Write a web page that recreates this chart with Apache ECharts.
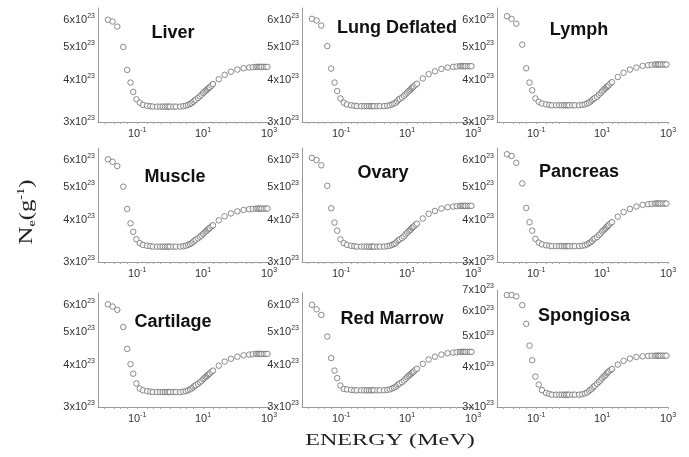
<!DOCTYPE html>
<html>
<head>
<meta charset="utf-8">
<title>Ne vs energy</title>
<script src="https://cdn.jsdelivr.net/npm/echarts@6/dist/echarts.min.js"></script>
<style>
  html, body { margin: 0; padding: 0; background: #fff; }
  #chart { width: 689px; height: 457px; }
</style>
</head>
<body>
<div id="chart"></div>
<script>
// photon energy grid (MeV), same for all nine tissues
var energy = [0.013, 0.018, 0.025, 0.038, 0.05, 0.063, 0.076, 0.095, 0.12,
  0.15, 0.2, 0.25,
  0.3, 0.4, 0.5, 0.6, 0.7, 0.8, 0.9, 1, 1.25, 1.5, 2,
  2.5,
  3, 3.5, 4, 4.5, 5, 5.5, 6, 7, 8, 9, 10, 11, 12, 13, 14, 15, 16, 18, 20,
  30, 45, 70, 110, 170, 250,
  320, 400, 450, 500, 550, 600, 700, 800, 900];

// electron density Ne, in units of 10^23 electrons per gram
var liver = [6.00, 5.93, 5.73, 4.99, 4.27, 3.92, 3.68, 3.50, 3.42,
  3.37, 3.35, 3.34,
  3.33, 3.33, 3.33, 3.33, 3.33, 3.33, 3.33, 3.33, 3.33, 3.33, 3.33,
  3.34,
  3.35, 3.37, 3.39, 3.41, 3.44, 3.47, 3.49, 3.53, 3.57, 3.61, 3.65, 3.68, 3.71, 3.73, 3.76, 3.78, 3.80, 3.84, 3.88,
  4.01, 4.13, 4.22, 4.28, 4.32, 4.34,
  4.35, 4.36, 4.36, 4.36, 4.36, 4.36, 4.36, 4.36, 4.36];
var lungDeflated = [6.04, 5.97, 5.77, 5.02, 4.31, 3.92, 3.70, 3.52, 3.42,
  3.38, 3.36, 3.35,
  3.34, 3.34, 3.34, 3.34, 3.34, 3.34, 3.34, 3.34, 3.34, 3.34, 3.34,
  3.35,
  3.36, 3.38, 3.40, 3.42, 3.45, 3.49, 3.51, 3.54, 3.58, 3.62, 3.66, 3.69, 3.72, 3.75, 3.78, 3.80, 3.82, 3.86, 3.89,
  4.03, 4.15, 4.23, 4.30, 4.34, 4.36,
  4.37, 4.38, 4.38, 4.38, 4.38, 4.38, 4.38, 4.38, 4.38];
var lymph = [6.15, 6.04, 5.84, 5.07, 4.32, 3.92, 3.72, 3.52, 3.44,
  3.40, 3.38, 3.37,
  3.36, 3.36, 3.36, 3.36, 3.36, 3.36, 3.36, 3.36, 3.36, 3.36, 3.36,
  3.37,
  3.38, 3.40, 3.42, 3.45, 3.48, 3.51, 3.53, 3.56, 3.61, 3.65, 3.69, 3.72, 3.76, 3.78, 3.81, 3.83, 3.85, 3.90, 3.93,
  4.07, 4.19, 4.28, 4.34, 4.39, 4.41,
  4.42, 4.43, 4.43, 4.43, 4.43, 4.43, 4.43, 4.43, 4.43];
var muscle = [6.02, 5.92, 5.75, 5.00, 4.30, 3.90, 3.68, 3.50, 3.41,
  3.37, 3.35, 3.34,
  3.33, 3.33, 3.33, 3.33, 3.33, 3.33, 3.33, 3.33, 3.33, 3.33, 3.33,
  3.34,
  3.35, 3.37, 3.39, 3.41, 3.44, 3.47, 3.49, 3.52, 3.56, 3.59, 3.63, 3.66, 3.69, 3.71, 3.74, 3.76, 3.78, 3.82, 3.85,
  3.98, 4.09, 4.17, 4.23, 4.27, 4.29,
  4.30, 4.31, 4.31, 4.31, 4.31, 4.31, 4.31, 4.31, 4.31];
var ovary = [6.08, 5.99, 5.78, 5.03, 4.32, 3.92, 3.71, 3.50, 3.41,
  3.37, 3.35, 3.34,
  3.33, 3.33, 3.33, 3.33, 3.33, 3.33, 3.33, 3.33, 3.33, 3.33, 3.33,
  3.34,
  3.35, 3.37, 3.39, 3.41, 3.45, 3.48, 3.50, 3.53, 3.57, 3.62, 3.66, 3.69, 3.72, 3.74, 3.78, 3.80, 3.82, 3.86, 3.89,
  4.03, 4.16, 4.24, 4.31, 4.35, 4.37,
  4.38, 4.39, 4.39, 4.39, 4.39, 4.39, 4.39, 4.39, 4.39];
var pancreas = [6.23, 6.16, 5.88, 5.11, 4.33, 3.93, 3.71, 3.51, 3.42,
  3.38, 3.36, 3.35,
  3.34, 3.34, 3.34, 3.34, 3.34, 3.34, 3.34, 3.34, 3.34, 3.34, 3.34,
  3.35,
  3.36, 3.38, 3.41, 3.43, 3.46, 3.50, 3.52, 3.55, 3.60, 3.64, 3.69, 3.72, 3.75, 3.78, 3.81, 3.83, 3.86, 3.90, 3.93,
  4.08, 4.21, 4.30, 4.37, 4.42, 4.44,
  4.45, 4.46, 4.46, 4.46, 4.46, 4.46, 4.46, 4.46, 4.46];
var cartilage = [6.02, 5.93, 5.80, 5.16, 4.45, 4.01, 3.76, 3.52, 3.40,
  3.36, 3.34, 3.33,
  3.32, 3.32, 3.32, 3.32, 3.32, 3.32, 3.32, 3.32, 3.32, 3.32, 3.32,
  3.33,
  3.34, 3.36, 3.38, 3.40, 3.43, 3.46, 3.48, 3.51, 3.55, 3.58, 3.62, 3.65, 3.68, 3.70, 3.73, 3.75, 3.77, 3.81, 3.84,
  3.97, 4.08, 4.16, 4.22, 4.26, 4.28,
  4.29, 4.30, 4.30, 4.30, 4.30, 4.30, 4.30, 4.30, 4.30];
var redMarrow = [6.00, 5.82, 5.60, 4.84, 4.18, 3.84, 3.65, 3.47, 3.39,
  3.38, 3.37, 3.36,
  3.36, 3.36, 3.36, 3.36, 3.36, 3.36, 3.36, 3.36, 3.36, 3.36, 3.36,
  3.37,
  3.38, 3.40, 3.42, 3.44, 3.47, 3.50, 3.52, 3.55, 3.59, 3.63, 3.67, 3.70, 3.73, 3.75, 3.78, 3.80, 3.82, 3.86, 3.89,
  4.02, 4.14, 4.22, 4.28, 4.32, 4.34,
  4.35, 4.36, 4.36, 4.36, 4.36, 4.36, 4.36, 4.36, 4.36];
var spongiosa = [6.75, 6.75, 6.68, 6.27, 5.48, 4.68, 4.21, 3.74, 3.53,
  3.39, 3.32, 3.30,
  3.28, 3.28, 3.28, 3.28, 3.28, 3.28, 3.28, 3.28, 3.28, 3.28, 3.28,
  3.29,
  3.31, 3.33, 3.37, 3.40, 3.43, 3.47, 3.50, 3.55, 3.60, 3.64, 3.69, 3.73, 3.76, 3.79, 3.83, 3.86, 3.88, 3.92, 3.95,
  4.08, 4.19, 4.26, 4.31, 4.33, 4.34,
  4.35, 4.35, 4.35, 4.35, 4.35, 4.35, 4.35, 4.35, 4.35];

var tissueNames = ['Liver', 'Lung Deflated', 'Lymph', 'Muscle', 'Ovary', 'Pancreas',
  'Cartilage', 'Red Marrow', 'Spongiosa'];
var tissueValues = [liver, lungDeflated, lymph, muscle, ovary, pancreas,
  cartilage, redMarrow, spongiosa];

var xLabelValues = [0.1, 10, 1000];
var xTickValues = [0.01, 0.02, 0.03, 0.05, 0.1, 0.2, 0.3, 0.5, 1, 2, 3, 5,
  10, 20, 30, 50, 100, 200, 300, 500, 1000];
var yLabelValues = [3, 4, 5, 6];
var yLabelValuesBone = [3, 4, 5, 6, 7];

var chart = echarts.init(document.getElementById('chart'));

// panel layout
var colLeft = [98, 302, 497];
var rowTop = [8, 148, 293];
var W = 171, H = 114;
var titlePos = [[173, 33], [397, 28], [579, 30],
  [175, 177], [383, 173], [579, 172],
  [173, 322], [392, 319], [584, 316]];

var labelRich = {
  b: { fontSize: 11, fontFamily: 'Liberation Sans', color: '#333', lineHeight: 14 },
  s: { fontSize: 7, fontFamily: 'Liberation Sans', color: '#333', lineHeight: 14, verticalAlign: 'top', padding: [0, 0, 6, 0] }
};

var grid = [], xAxis = [], yAxis = [], series = [], graphic = [];

tissueNames.forEach(function (name, i) {
  var r = Math.floor(i / 3), c = i % 3;
  var bone = name === 'Spongiosa';
  grid.push({
    left: colLeft[c], top: bone ? rowTop[r] - 3 : rowTop[r],
    width: W, height: bone ? H + 3 : H,
    containLabel: false, outerBoundsMode: 'none'
  });
  xAxis.push({
    gridIndex: i, type: 'log', logBase: 10, min: 0.0065, max: 1000,
    axisLine: { lineStyle: { color: '#999', width: 1 } },
    axisTick: { show: true, customValues: xTickValues, length: 2, lineStyle: { color: '#aaa' } },
    axisLabel: {
      customValues: xLabelValues, margin: 5,
      formatter: function (v) { return '{b|10}{s|' + Math.round(Math.log10(v)) + '}'; },
      rich: labelRich
    },
    splitLine: { show: false }
  });
  yAxis.push({
    gridIndex: i, type: 'log', logBase: 10, min: 3, max: bone ? 7 : 6.5,
    axisLine: { show: true, lineStyle: { color: '#999', width: 1 } },
    axisTick: { show: false },
    axisLabel: {
      customValues: bone ? yLabelValuesBone : yLabelValues, margin: 3,
      formatter: function (v) { return '{b|' + Math.round(v) + 'x10}{s|23}'; },
      rich: labelRich
    },
    splitLine: { show: false }
  });
  series.push({
    type: 'scatter', xAxisIndex: i, yAxisIndex: i,
    data: energy.map(function (e, k) { return [e, tissueValues[i][k]]; }),
    symbol: 'circle', symbolSize: 5.5,
    itemStyle: { color: '#fff', borderColor: '#6e6e6e', borderWidth: 1 },
    silent: true, animation: false
  });
  graphic.push({
    type: 'text', x: titlePos[i][0], y: titlePos[i][1],
    style: {
      text: name, fontSize: 18, fontWeight: 'bold', fontFamily: 'Liberation Sans',
      fill: '#111', align: 'center', verticalAlign: 'middle',
      textAlign: 'center', textVerticalAlign: 'middle'
    }
  });
});

// shared axis titles
graphic.push({
  type: 'text', x: 390, y: 441, scaleX: 1.42,
  style: {
    text: 'ENERGY (MeV)', fontSize: 17, fontFamily: 'Liberation Serif', fill: '#222',
    align: 'center', verticalAlign: 'middle', textAlign: 'center', textVerticalAlign: 'middle'
  }
});
graphic.push({
  type: 'text', x: 27, y: 212, rotation: Math.PI / 2, scaleX: 1.3,
  style: {
    text: '{n|N}{sub|e}{n|(g}{sup|-1}{n|)}',
    rich: {
      n: { fontSize: 19, fontFamily: 'Liberation Serif', fill: '#222', color: '#222', lineHeight: 22 },
      sub: { fontSize: 11, fontFamily: 'Liberation Serif', color: '#222', lineHeight: 22, verticalAlign: 'bottom' },
      sup: { fontSize: 11, fontFamily: 'Liberation Serif', color: '#222', lineHeight: 22, verticalAlign: 'top' }
    },
    align: 'center', verticalAlign: 'middle', textAlign: 'center', textVerticalAlign: 'middle'
  }
});

chart.setOption({
  animation: false,
  grid: grid,
  xAxis: xAxis,
  yAxis: yAxis,
  series: series,
  graphic: graphic
});
window.addEventListener('resize', function () { chart.resize(); });
</script>
</body>
</html>
